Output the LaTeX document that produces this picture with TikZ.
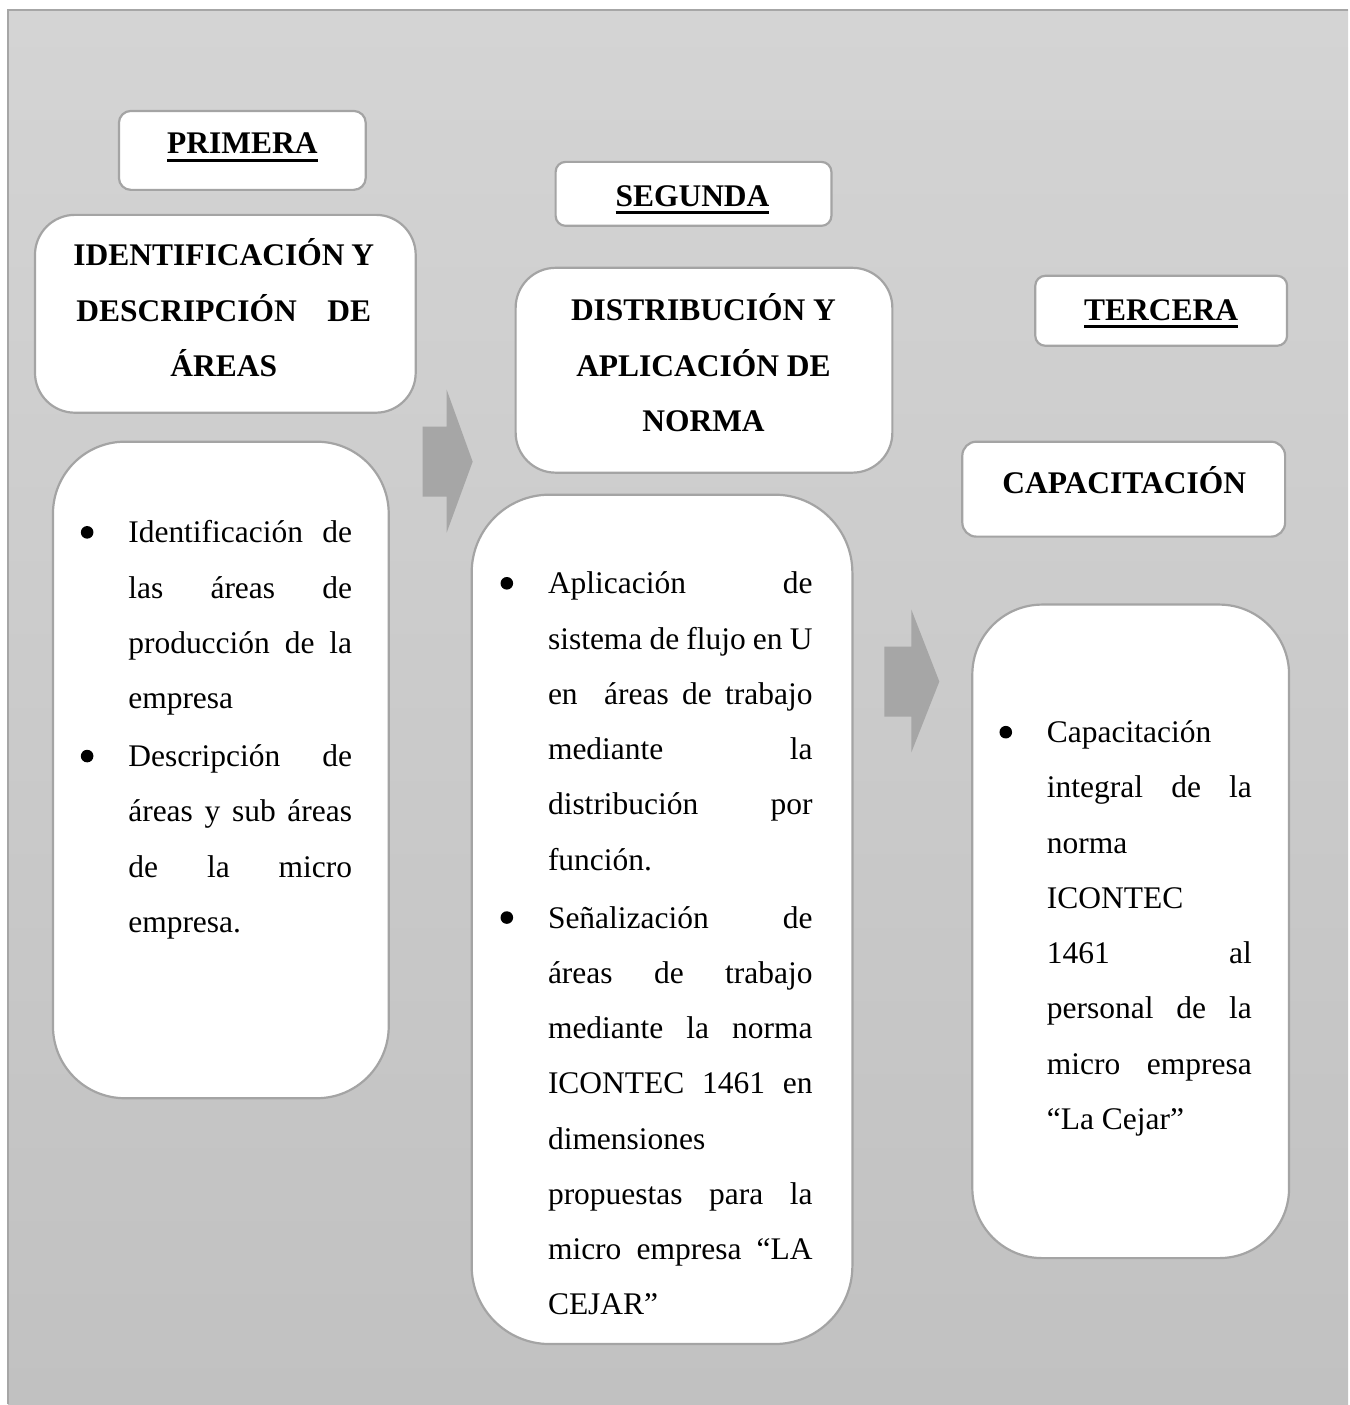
\documentclass[tikz,border=0pt]{standalone}
\usepackage{fontspec}
\setmainfont{Liberation Serif}
\usepackage{tikz}

\definecolor{fondoarriba}{HTML}{D4D4D4}
\definecolor{fondoabajo}{HTML}{C1C1C1}
\definecolor{marco}{HTML}{A6A6A6}
\definecolor{borde}{HTML}{A4A4A4}
\definecolor{flechagris}{HTML}{A6A6A6}

% subrayado grueso de los titulos
\newcommand{\subr}[1]{\setbox0=\hbox{#1}\rlap{\rule[-8pt]{\wd0}{3pt}}\box0}
% punto de lista: ancho del texto, texto
\newcommand{\vineta}[2]{\noindent\lineskip=0pt\strut\makebox[47.5pt][l]{\tikz[baseline=-10.5pt]\fill (0,0) circle (6.3pt);}%
  \parbox[t]{#1}{\hyphenpenalty=10000 #2\strut}\par}

\tikzset{
  caja/.style={draw=borde, line width=2.2pt, fill=white, inner sep=0pt},
  titulo/.style={font=\fontsize{31.5}{55.3}\selectfont\bfseries, inner sep=0pt},
  texto/.style={font=\fontsize{31.5}{55.3}\selectfont, inner sep=0pt, align=justify, anchor=north west},
  flecha/.style={fill=flechagris}
}

\begin{document}
\begin{tikzpicture}[x=1pt,y=-1pt]

% fondo
\fill[white] (0,0) rectangle (1349,1405);
\shade[top color=fondoarriba, bottom color=fondoabajo] (8,10) rectangle (1349,1405);
\draw[marco, line width=2pt] (1349,10) -- (8,10) -- (8,1405);

% Primera etapa
\node[caja, rounded corners=12pt, minimum width=247pt, minimum height=79pt] (primera) at (242.5,150.5) {};
\node[titulo, anchor=base] (tprimera) at (242.5,154) {\subr{PRIMERA}};
\node[caja, rounded corners=40pt, minimum width=381pt, minimum height=198pt] (identif) at (225.5,314) {};
\node[titulo, align=center] (tidentif) at (224,308) {\makebox[301pt][s]{IDENTIFICACIÓN Y}\\\makebox[295pt][s]{DESCRIPCIÓN DE}\\ÁREAS};
\node[caja, rounded corners=72pt, minimum width=336pt, minimum height=657pt] (lista1) at (221,770.5) {};
\node[texto, text width=271.5pt] (texto1) at (80.7,504.3) {%
\vineta{224pt}{Identificación de\linebreak las áreas de\linebreak producción de la\linebreak empresa}%
\vspace{2.7pt}%
\vineta{224pt}{Descripción de\linebreak áreas y sub áreas\linebreak de la micro\linebreak empresa.}};

% Segunda etapa
\node[caja, rounded corners=10pt, minimum width=276pt, minimum height=64pt] (segunda) at (694,194) {};
\node[titulo, anchor=base] (tsegunda) at (693,206.5) {\subr{SEGUNDA}};
\node[caja, rounded corners=40pt, minimum width=377pt, minimum height=205pt] (distrib) at (704.5,370.5) {};
\node[titulo, align=center] (tdistrib) at (704,363) {DISTRIBUCIÓN Y\\APLICACIÓN DE\\NORMA};
\node[caja, rounded corners=78pt, minimum width=381pt, minimum height=850pt] (lista2) at (662.5,920) {};
\node[texto, text width=312.2pt] (texto2) at (500.7,555.3) {%
\vineta{264.7pt}{Aplicación de\linebreak sistema de flujo en U\linebreak en \ áreas de trabajo\linebreak mediante la\linebreak distribución por\linebreak función.}%
\vspace{2.7pt}%
\vineta{264.7pt}{Señalización de\linebreak áreas de trabajo\linebreak mediante la norma\linebreak ICONTEC 1461 en\linebreak dimensiones\newline propuestas para la\linebreak micro empresa “LA\linebreak CEJAR”}};

% Tercera etapa
\node[caja, rounded corners=10pt, minimum width=252pt, minimum height=70pt] (tercera) at (1162,311) {};
\node[titulo, anchor=base] (ttercera) at (1162,320.5) {\subr{TERCERA}};
\node[caja, rounded corners=14pt, minimum width=323pt, minimum height=95pt] (capacit) at (1124.5,489.5) {};
\node[titulo, anchor=base] (tcapacit) at (1125,493.5) {CAPACITACIÓN};
\node[caja, rounded corners=70pt, minimum width=317pt, minimum height=654pt] (lista3) at (1131.5,932) {};
\node[texto, text width=252.5pt] (texto3) at (1000,704.3) {%
\vineta{205pt}{Capacitación\newline integral de la\linebreak norma\newline ICONTEC\newline 1461 al\linebreak personal de la\linebreak micro empresa\linebreak “La Cejar”}};

% flechas entre etapas
\fill[flecha] (423,427) -- (447,427) -- (447,390) -- (473,462) -- (447,533) -- (447,497) -- (423,497) -- cycle;
\fill[flecha] (885,647) -- (912,647) -- (912,610) -- (940,682) -- (912,753) -- (912,717) -- (885,717) -- cycle;

\end{tikzpicture}
\end{document}
